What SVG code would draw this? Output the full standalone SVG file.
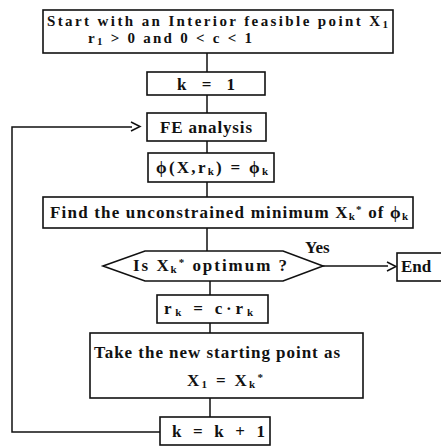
<svg xmlns="http://www.w3.org/2000/svg" width="441" height="447" viewBox="0 0 441 447">
<style>
.box{fill:#fff;stroke:#111;stroke-width:1.6}
.ln{fill:none;stroke:#111;stroke-width:1.5}
text{font-family:"Liberation Serif","Times New Roman",serif;font-size:17px;font-weight:bold;fill:#111}
.t15{font-size:15px}
.s{font-size:11px}
</style>
<rect width="441" height="447" fill="#fff"/>
<g id="connectors">
<path class="ln" d="M207 53V72M207 95V113M207 141V153M207 182V197M207 228V251M210 281V295M210 323V333M210 398V417"/>
<path class="ln" d="M160 432H12V127H132"/>
<path class="ln" d="M131 122L140 126.5L131 131"/>
<path class="ln" d="M323 266H388"/>
<path class="ln" d="M387 262L396 266.5L387 271"/>
<text x="305" y="253">Yes</text>
</g>
<g id="start">
<rect class="box" x="43" y="10" width="350" height="43"/>
<text class="t15" x="47" y="26" textLength="341" lengthAdjust="spacing">Start with an Interior feasible point X<tspan class="s" dy="2">1</tspan></text>
<text class="t15" x="88" y="43" textLength="164" lengthAdjust="spacing">r<tspan class="s" dy="2">1</tspan><tspan dy="-2"> &gt; 0 and 0 &lt; c &lt; 1</tspan></text>
</g>
<g id="k1">
<rect class="box" x="147" y="72" width="118" height="23"/>
<text x="177" y="90" textLength="58" lengthAdjust="spacing">k = 1</text>
</g>
<g id="fe">
<rect class="box" x="147" y="113" width="119" height="28"/>
<text x="160" y="133" textLength="92" lengthAdjust="spacing">FE analysis</text>
</g>
<g id="phi">
<rect class="box" x="148" y="153" width="126" height="29"/>
<text x="156" y="173" textLength="112" lengthAdjust="spacing">ϕ(X,r<tspan class="s" dy="2">k</tspan><tspan dy="-2">) = ϕ</tspan><tspan class="s" dy="2">k</tspan></text>
</g>
<g id="find">
<rect class="box" x="43" y="197" width="370" height="31"/>
<text x="50" y="218" textLength="358" lengthAdjust="spacing">Find the unconstrained minimum X<tspan class="s" dy="2">k</tspan><tspan class="s" dy="-7">*</tspan><tspan dy="5"> of ϕ</tspan><tspan class="s" dy="2">k</tspan></text>
</g>
<g id="decision">
<polygon class="box" points="103,266 145,251 283,251 323,266 283,281 145,281"/>
<text x="133" y="271" textLength="154" lengthAdjust="spacing">Is X<tspan class="s" dy="2">k</tspan><tspan class="s" dy="-7">*</tspan><tspan dy="5"> optimum ?</tspan></text>
</g>
<g id="end">
<rect class="box" x="397" y="253" width="46" height="28"/>
<text x="401" y="272">End</text>
</g>
<g id="rk">
<rect class="box" x="157" y="295" width="111" height="28"/>
<text x="164" y="314" textLength="89" lengthAdjust="spacing">r<tspan class="s" dy="2">k</tspan><tspan dy="-2"> = c·r</tspan><tspan class="s" dy="2">k</tspan></text>
</g>
<g id="take">
<rect class="box" x="90" y="333" width="273" height="65"/>
<text x="94" y="358" textLength="246" lengthAdjust="spacing">Take the new starting point as</text>
<text x="187" y="386" textLength="76" lengthAdjust="spacing">X<tspan class="s" dy="2">1</tspan><tspan dy="-2"> = X</tspan><tspan class="s" dy="2">k</tspan><tspan class="s" dy="-7">*</tspan></text>
</g>
<g id="kinc">
<rect class="box" x="160" y="417" width="110" height="28"/>
<text x="172" y="437" textLength="93" lengthAdjust="spacing">k = k + 1</text>
</g>
</svg>
